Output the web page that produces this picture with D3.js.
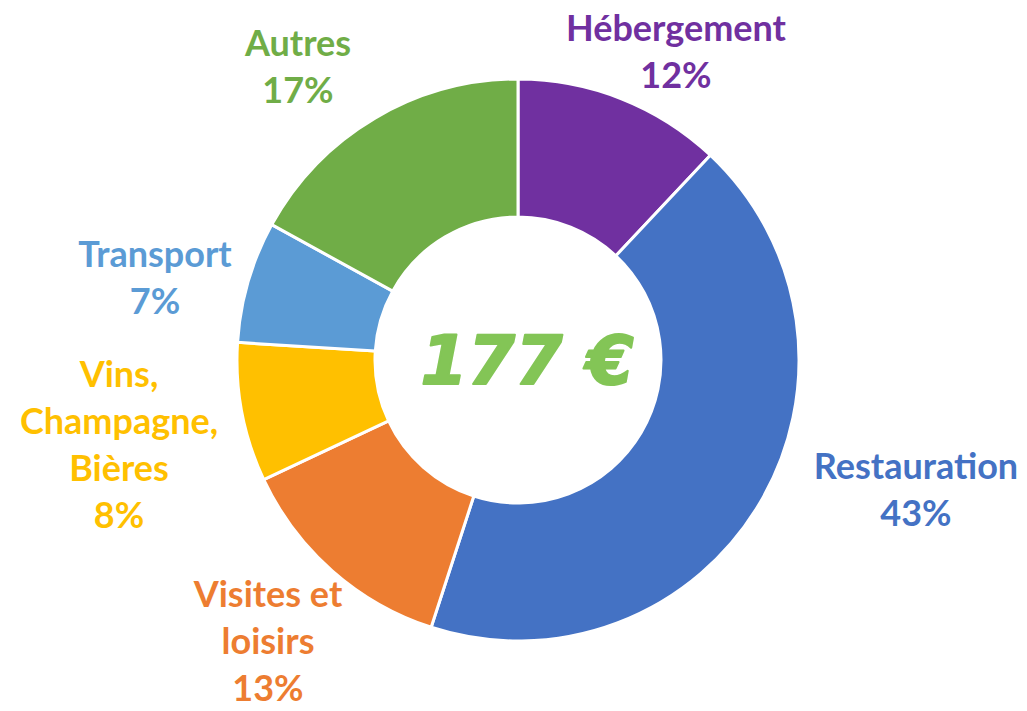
<!DOCTYPE html>
<html>
<head>
<meta charset="utf-8">
<script src="https://cdn.jsdelivr.net/npm/d3@7"></script>
<style>
  html, body { margin: 0; padding: 0; background: #fff; }
  svg { display: block; }
</style>
</head>
<body>
<svg id="chart"></svg>
<script>
// data
const categories = ["Hébergement", "Restauration", "Visites et loisirs", "Vins, Champagne, Bières", "Transport", "Autres"];
const shares = [12, 43, 13, 8, 7, 17];
const labelLines = [
  ["Hébergement"],
  ["Restauration"],
  ["Visites et", "loisirs"],
  ["Vins,", "Champagne,", "Bières"],
  ["Transport"],
  ["Autres"]
];
const totalLabel = "177 €";

// layout / style
const width = 1027, height = 711;
const cx = 518, cy = 360;
const outerR = 281, innerR = 143;
const colors = ["#7030A0", "#4472C4", "#ED7D31", "#FFC000", "#5B9BD5", "#70AD47"];
// label anchor: x centre, baseline of first line
const labelPos = [
  [676, 41], [916, 479], [268, 607], [119, 387], [155, 267], [298, 56]
];
const lineGap = 47;

const svg = d3.select("#chart")
  .attr("width", width)
  .attr("height", height)
  .attr("viewBox", [0, 0, width, height]);

const pie = d3.pie().sort(null).value(d => d);
const arc = d3.arc().innerRadius(innerR).outerRadius(outerR);

const g = svg.append("g").attr("transform", `translate(${cx},${cy})`);

g.selectAll("path")
  .data(pie(shares))
  .join("path")
    .attr("d", arc)
    .attr("fill", (d, i) => colors[i])
    .attr("stroke", "#fff")
    .attr("stroke-width", 3)
    .attr("stroke-linejoin", "round");

// labels
const labels = svg.append("g")
  .attr("font-family", "Lato, 'Open Sans', sans-serif")
  .attr("font-weight", "bold")
  .attr("font-size", 36)
  .attr("text-anchor", "middle");

categories.forEach((c, i) => {
  const lines = labelLines[i].concat([shares[i] + "%"]);
  const t = labels.append("text")
    .attr("fill", colors[i])
    .attr("x", labelPos[i][0])
    .attr("y", labelPos[i][1]);
  lines.forEach((l, j) => {
    t.append("tspan")
      .attr("x", labelPos[i][0])
      .attr("dy", j === 0 ? 0 : lineGap)
      .text(l);
  });
});

// centre total
svg.append("text")
  .attr("x", 527)
  .attr("y", 384)
  .attr("text-anchor", "middle")
  .attr("font-family", "'DejaVu Sans', sans-serif")
  .attr("font-weight", "bold")
  .attr("font-style", "italic")
  .attr("font-size", 68)
  .attr("fill", "#83C556")
  .attr("stroke", "#83C556")
  .attr("stroke-width", 2)
  .attr("stroke-linejoin", "round")
  .text(totalLabel);
</script>
</body>
</html>
